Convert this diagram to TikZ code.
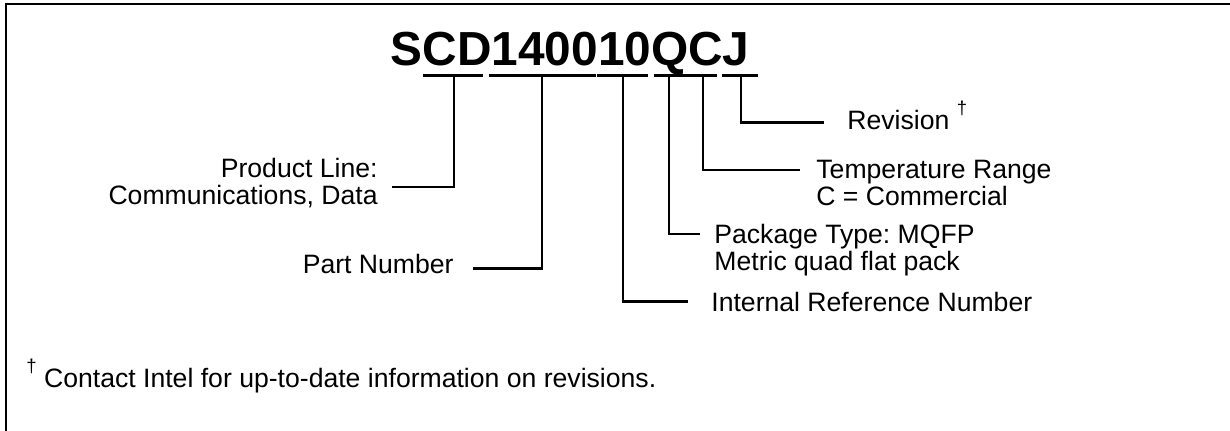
\documentclass[tikz,border=0pt]{standalone}
\usepackage{fontspec}
\setmainfont{Liberation Sans}
\frenchspacing
\newcommand{\rdag}{\raisebox{7.5pt}{\fontsize{9.3}{9.3}\selectfont\textdagger}}
\begin{document}
\begin{tikzpicture}[x=0.5pt, y=-0.5pt, line width=1.4pt,
        every node/.style={inner sep=0pt, font=\fontsize{13.3}{13.6}\selectfont},
        lbl/.style={align=left, anchor=base west},
        lblr/.style={align=right, anchor=base east}]
    \useasboundingbox (0,0) rectangle (1230,431);
    \draw[line width=1pt] (6,431) -- (6,3.7) -- (1230,3.7);
    \node[anchor=base west, font=\fontsize{23.9}{24}\selectfont\bfseries] (code) at (389.5,66) {SCD140010QCJ};
    % underlines of the groups
    \foreach \a/\b in {423/483, 489/596, 597/648, 654/717, 722/758}
        \draw (\a,75.3) -- (\b,75.3);
    \coordinate (tprod) at (454,75.3);
    \coordinate (tpart) at (542,75.3);
    \coordinate (tref) at (623,75.3);
    \coordinate (tpkg) at (669,75.3);
    \coordinate (ttemp) at (703,75.3);
    \coordinate (trev) at (741,75.3);
    \coordinate (eprod) at (392,187);
    \coordinate (epart) at (473,268.3);
    \coordinate (eref) at (688,301.3);
    \coordinate (epkg) at (700,234);
    \coordinate (etemp) at (800,170);
    \coordinate (erev) at (824,122.7);
    % base of a two-line label is its second line
    \node[lblr] (prod) at (379,205) {Product Line:\\Communications, Data};
    \node[lblr] (part) at (455,273.3) {Part Number};
    \node[lbl] (ref) at (710,311.7) {Internal Reference Number};
    \node[lbl] (pkg) at (713,270.3) {Package Type: MQFP\\Metric quad flat pack};
    \node[lbl] (temp) at (815,205.3) {Temperature Range\\C = Commercial};
    \node[lbl] (rev) at (846,130) {Revision \rdag};
    \draw (tprod) |- (eprod);
    \draw (tpart) |- (epart);
    \draw (tref) |- (eref);
    \draw (tpkg) |- (epkg);
    \draw (ttemp) |- (etemp);
    \draw (trev) |- (erev);
    \node[lbl] (foot) at (25,388) {\rdag\ Contact Intel for up-to-date information on revisions.};
\end{tikzpicture}
\end{document}
